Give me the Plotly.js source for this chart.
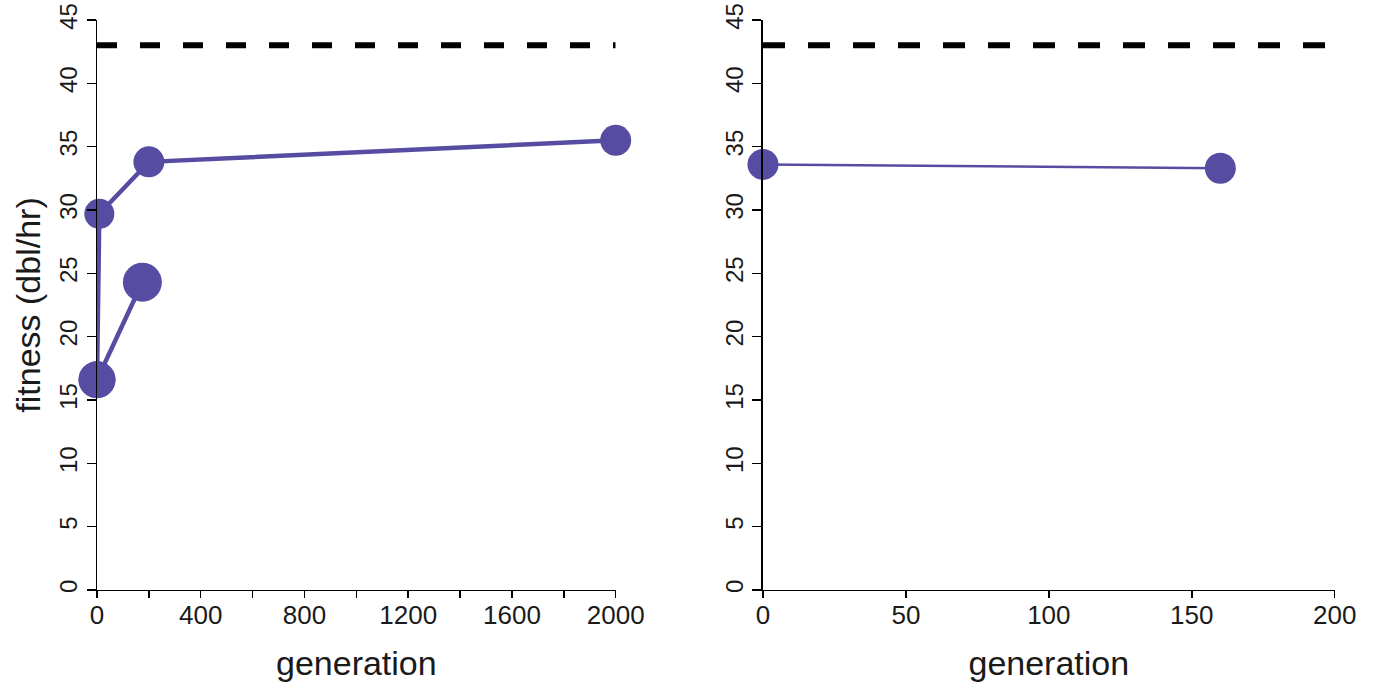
<!DOCTYPE html>
<html>
<head>
<meta charset="utf-8">
<script src="https://cdn.plot.ly/plotly-3.0.1.min.js"></script>
<style>
html,body{margin:0;padding:0;background:#fff;}
#chart{width:1373px;height:683px;}
</style>
</head>
<body>
<div id="chart"></div>
<script>
// ---- data ----
// Left panel
const leftAGen = [0, 9, 200, 2000];
const leftAFit = [16.6, 29.7, 33.8, 35.5];
const leftASizes = [37, 30, 31, 31];
const leftBGen = [0, 175];
const leftBFit = [16.6, 24.3];
const leftBSizes = [37, 39];
const leftRefGen = [0, 2000];
const leftRefFit = [43, 43];
// Right panel
const rightGen = [0, 160];
const rightFit = [33.6, 33.3];
const rightRefGen = [0, 200];
const rightRefFit = [43, 43];
// Ticks
const leftXTickVals = [0, 200, 400, 600, 800, 1000, 1200, 1400, 1600, 1800, 2000];
const leftXTickText = ['0', '', '400', '', '800', '', '1200', '', '1600', '', '2000'];
const rightXTickVals = [0, 50, 100, 150, 200];
const rightXTickText = ['0', '50', '100', '150', '200'];
const yTickVals = [0, 5, 10, 15, 20, 25, 30, 35, 40, 45];
const yTickText = ['0', '5', '10', '15', '20', '25', '30', '35', '40', '45'];
const xTitle = 'generation';
const yTitle = 'fitness (dbl/hr)';

const blue = 'rgb(86,77,163)';
const sans = '"Liberation Sans", Arial, sans-serif';
const noLine = {width: 0};

const traces = [
  {x: leftRefGen, y: leftRefFit, xaxis: 'x', yaxis: 'y', mode: 'lines',
   line: {color: '#000', width: 6, dash: '20px,23px'}, hoverinfo: 'skip', cliponaxis: false},
  {x: leftAGen, y: leftAFit, xaxis: 'x', yaxis: 'y', mode: 'lines+markers',
   line: {color: blue, width: 4.5}, marker: {color: blue, size: leftASizes, opacity: 1, line: noLine}, cliponaxis: false},
  {x: leftBGen, y: leftBFit, xaxis: 'x', yaxis: 'y', mode: 'lines+markers',
   line: {color: blue, width: 4.5}, marker: {color: blue, size: leftBSizes, opacity: 1, line: noLine}, cliponaxis: false},
  {x: rightRefGen, y: rightRefFit, xaxis: 'x2', yaxis: 'y2', mode: 'lines',
   line: {color: '#000', width: 6, dash: '22px,23px'}, hoverinfo: 'skip', cliponaxis: false},
  {x: rightGen, y: rightFit, xaxis: 'x2', yaxis: 'y2', mode: 'lines+markers',
   line: {color: blue, width: 2.5}, marker: {color: blue, size: 31, opacity: 1, line: noLine}, cliponaxis: false}
];

const xCommon = {
  showline: true, linecolor: '#000', linewidth: 1.5, showgrid: false, zeroline: false,
  ticks: 'outside', ticklen: 7, tickwidth: 1.5, tickcolor: '#000',
  tickfont: {family: sans, size: 26, color: '#1a1a1a'}, ticklabelstandoff: -6,
  tickmode: 'array', fixedrange: true
};
const yCommon = {
  range: [0, 45], domain: [0.1362, 0.9707],
  showline: true, linecolor: '#000', linewidth: 1.5, showgrid: false, zeroline: false,
  ticks: 'outside', ticklen: 9, tickwidth: 1.5, tickcolor: '#000',
  tickfont: {family: sans, size: 24, color: '#1a1a1a'}, tickangle: -90,
  tickmode: 'array', tickvals: yTickVals, ticktext: yTickText, fixedrange: true
};

const layout = {
  width: 1373, height: 683,
  margin: {l: 0, r: 0, t: 0, b: 0},
  paper_bgcolor: '#fff', plot_bgcolor: '#fff',
  showlegend: false,
  xaxis: Object.assign({}, xCommon, {
    domain: [0.07065, 0.44843], range: [0, 2000], anchor: 'y',
    tickvals: leftXTickVals, ticktext: leftXTickText,
    title: {text: xTitle, font: {family: sans, size: 34, color: '#1a1a1a'}, standoff: 22}
  }),
  yaxis: Object.assign({}, yCommon, {
    anchor: 'x',
    title: {text: yTitle, font: {family: sans, size: 34, color: '#1a1a1a'}, standoff: 4}
  }),
  xaxis2: Object.assign({}, xCommon, {
    domain: [0.5557, 0.9721], range: [0, 200], anchor: 'y2',
    tickvals: rightXTickVals, ticktext: rightXTickText,
    title: {text: xTitle, font: {family: sans, size: 34, color: '#1a1a1a'}, standoff: 22}
  }),
  yaxis2: Object.assign({}, yCommon, {anchor: 'x2'})
};

Plotly.newPlot('chart', traces, layout, {displayModeBar: false, staticPlot: true});
</script>
</body>
</html>
